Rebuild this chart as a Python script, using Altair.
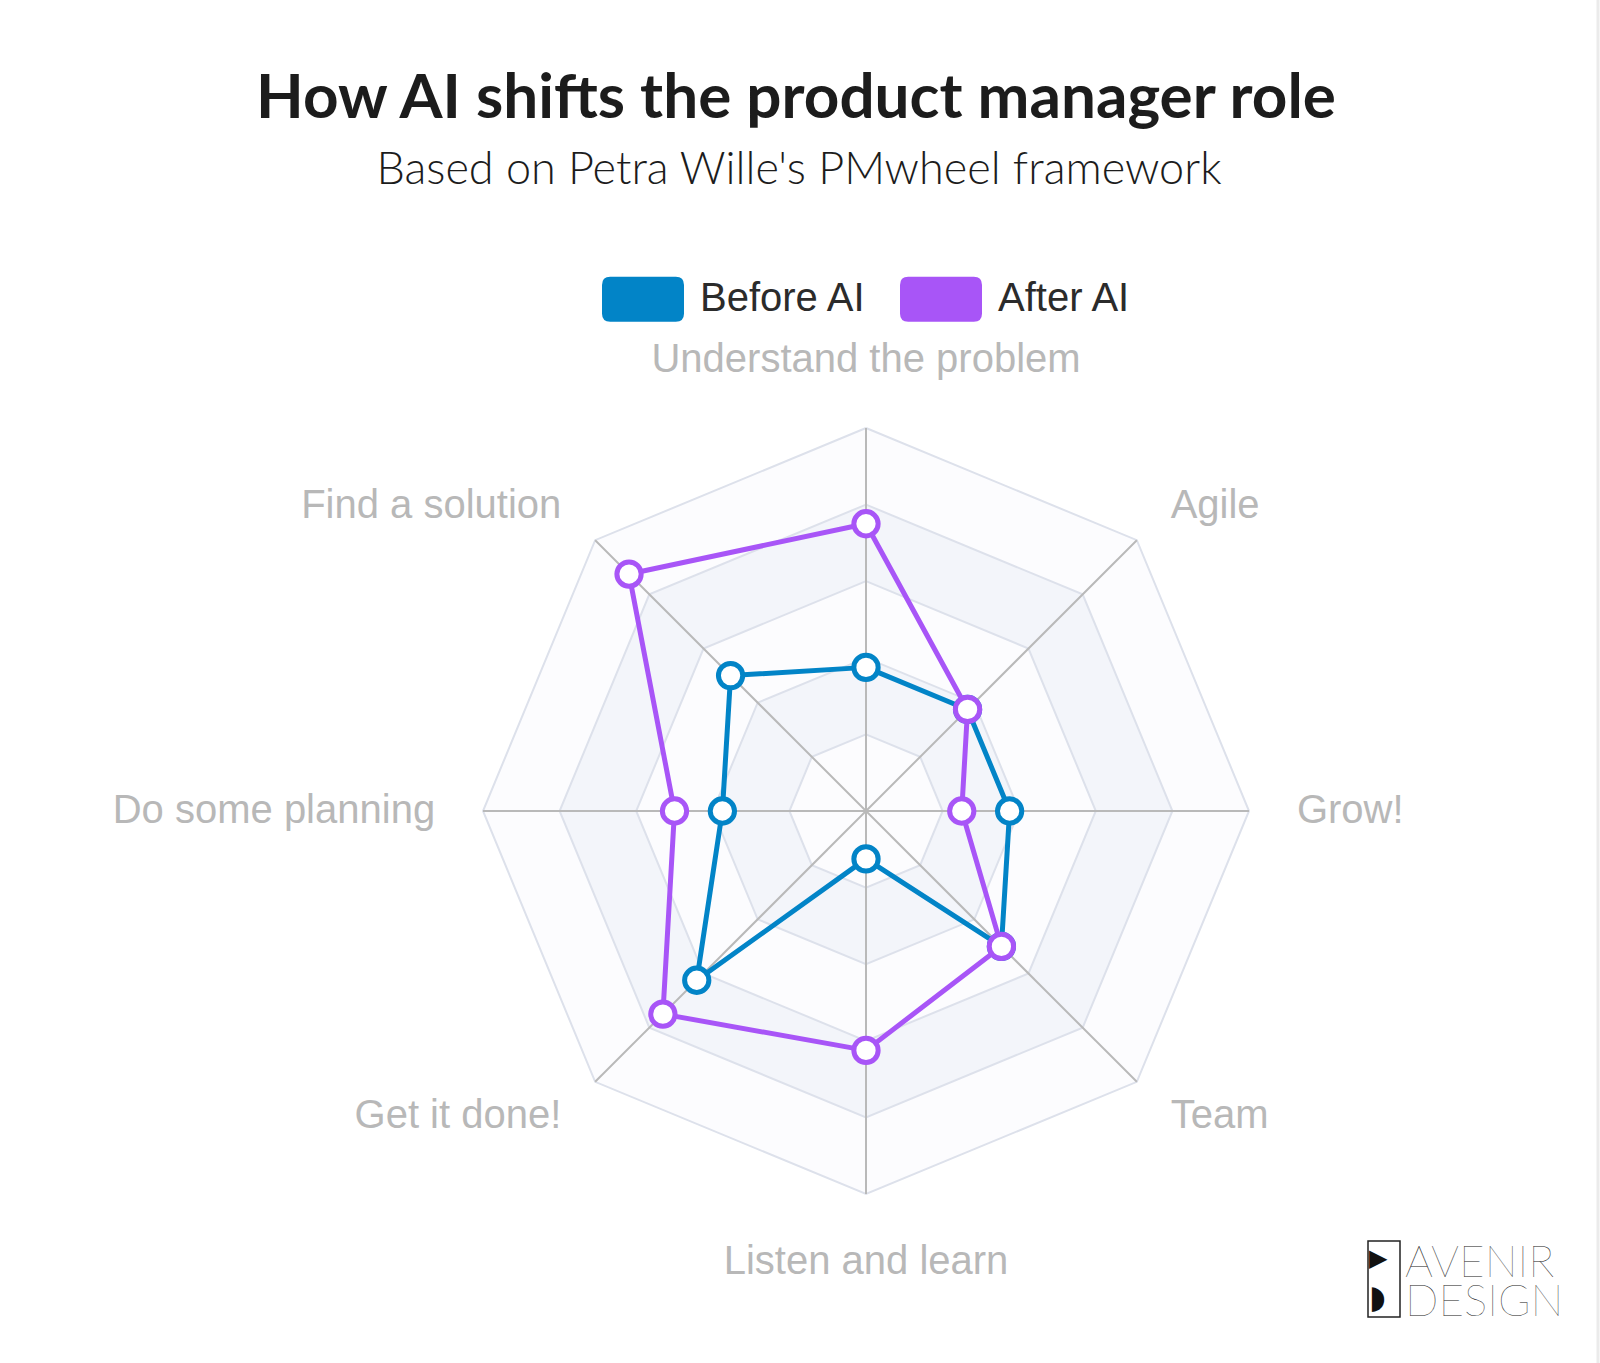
import altair as alt
import pandas as pd

# ---------------- data ----------------
categories = ["Understand the problem", "Agile", "Grow!", "Team",
              "Listen and learn", "Get it done!", "Do some planning", "Find a solution"]
before_ai = [3, 3, 3, 4, 1, 5, 3, 4]
after_ai = [6, 3, 2, 4, 5, 6, 4, 7]
series_names = ["Before AI", "After AI"]
series_colors = ["#0284c7", "#a855f7"]
ring_levels = [1.6, 3.2, 4.8, 6.4, 8.0]
band_fills = ["#fcfcfe", "#f3f5fa", "#fcfcfe", "#f3f5fa", "#fcfcfe"]
label_anchor = ["top", "left", "left", "left", "bottom", "right", "right", "right"]
title_text = "How AI shifts the product manager role"
subtitle_text = "Based on Petra Wille's PMwheel framework"
logo_top = "AVENIR"
logo_bottom = "DESIGN"

# ---------------- geometry ----------------
W, H = 1600, 1363
CX, CY = 866, 811
R_MAX = 8.0
K = 383 / R_MAX          # pixels per value unit
LABEL_R = 9.0
N = len(categories)

xs = alt.Scale(domain=[-CX / K, (W - CX) / K], nice=False, zero=False)
ys = alt.Scale(domain=[-(H - CY) / K, CY / K], nice=False, zero=False)
X = alt.X("x:Q", scale=xs, axis=None)
Y = alt.Y("y:Q", scale=ys, axis=None)
ANG = f"datum.idx * 2 * PI / {N}"

rows = []
for name, vals in zip(series_names, [before_ai, after_ai]):
    for i in range(N + 1):
        rows.append({"series": name, "idx": i, "value": vals[i % N],
                     "category": categories[i % N]})
series_df = pd.DataFrame(rows)

grid_df = pd.DataFrame([{"ring": j, "level": lv, "idx": i}
                        for j, lv in enumerate(ring_levels) for i in range(N + 1)])
spoke_df = pd.DataFrame({"idx": list(range(N)), "r": [R_MAX] * N})
label_df = pd.DataFrame({"category": categories, "idx": list(range(N)),
                         "anchor": label_anchor, "r": [LABEL_R] * N})

color_scale = alt.Scale(domain=series_names, range=series_colors)

layers = []

# legend-carrying layer, drawn first (covered by everything else)
legend_path = ("M -0.8,-0.55 L 0.8,-0.55 Q 1,-0.55 1,-0.35 L 1,0.35 Q 1,0.55 0.8,0.55 "
               "L -0.8,0.55 Q -1,0.55 -1,0.35 L -1,-0.35 Q -1,-0.55 -0.8,-0.55 Z")
layers.append(
    alt.Chart(series_df)
    .transform_filter(f"datum.idx < {N}")
    .transform_calculate(x="0", y="0")
    .mark_square(size=1)
    .encode(x=X, y=Y,
            fill=alt.Fill("series:N", scale=alt.Scale(domain=series_names, range=series_colors),
                          legend=alt.Legend(orient="none", legendX=602, legendY=258,
                                            direction="horizontal", title=None,
                                            symbolType=legend_path, symbolSize=6724,
                                            symbolStrokeWidth=0, symbolOpacity=1,
                                            labelFont="Liberation Sans", labelFontSize=40,
                                            labelColor="#2b2b2b", labelOffset=16,
                                            columnPadding=33, labelLimit=500)))
)

# bands + ring lines (outer first)
for j in reversed(range(len(ring_levels))):
    layers.append(
        alt.Chart(grid_df)
        .transform_filter(f"datum.ring == {j}")
        .transform_calculate(x=f"datum.level * sin({ANG})", y=f"datum.level * cos({ANG})")
        .mark_line(fill=band_fills[j], stroke="#dde1eb", strokeWidth=2)
        .encode(x=X, y=Y, order=alt.Order("idx:Q"))
    )

# spokes
layers.append(
    alt.Chart(spoke_df)
    .transform_calculate(x="0", y="0",
                         x2=f"datum.r * sin({ANG})", y2=f"datum.r * cos({ANG})")
    .mark_rule(color="#b9b9b9", strokeWidth=2)
    .encode(x=X, y=Y, x2="x2:Q", y2="y2:Q")
)

# series lines and points
for name in series_names:
    base = (alt.Chart(series_df)
            .transform_filter(alt.datum.series == name)
            .transform_calculate(x=f"datum.value * sin({ANG})", y=f"datum.value * cos({ANG})"))
    layers.append(
        base.mark_line(strokeWidth=5, strokeJoin="round")
        .encode(x=X, y=Y, order=alt.Order("idx:Q"),
                color=alt.Color("series:N", scale=color_scale, legend=None))
    )
    layers.append(
        base.transform_filter(f"datum.idx < {N}")
        .mark_point(filled=False, fill="white", size=590, strokeWidth=5, opacity=1)
        .encode(x=X, y=Y,
                color=alt.Color("series:N", scale=color_scale, legend=None))
    )

# category labels
label_styles = {
    "top": dict(align="center", baseline="bottom"),
    "bottom": dict(align="center", baseline="top"),
    "left": dict(align="left", baseline="middle"),
    "right": dict(align="right", baseline="middle"),
}
for anchor, style in label_styles.items():
    layers.append(
        alt.Chart(label_df)
        .transform_filter(alt.datum.anchor == anchor)
        .transform_calculate(x=f"datum.r * sin({ANG})", y=f"datum.r * cos({ANG})")
        .mark_text(font="Liberation Sans", fontSize=40, color="#b8b8b8", **style)
        .encode(x=X, y=Y, text="category:N")
    )

# title and subtitle
layers.append(
    alt.Chart(pd.DataFrame({"t": [title_text]}))
    .mark_text(font="Lato", fontWeight="bold", fontSize=62, color="#1c1c1c",
               align="center", baseline="alphabetic")
    .encode(x=alt.value(796), y=alt.value(118), text="t:N")
)
layers.append(
    alt.Chart(pd.DataFrame({"t": [subtitle_text]}))
    .mark_text(font="Lato", fontWeight=300, fontSize=45, color="#1c1c1c",
               align="center", baseline="alphabetic")
    .encode(x=alt.value(799), y=alt.value(184), text="t:N")
)

# logo (approximation)
layers.append(
    alt.Chart(pd.DataFrame({"a": [0]}))
    .mark_rect(fill="white", stroke="#222222", strokeWidth=1.5)
    .encode(x=alt.value(1368), x2=alt.value(1400), y=alt.value(1241), y2=alt.value(1317))
)
layers.append(
    alt.Chart(pd.DataFrame({"t": ["\u25B6"]}))
    .mark_text(font="DejaVu Sans", fontSize=24, color="#111111", align="left", baseline="middle")
    .encode(x=alt.value(1369), y=alt.value(1259), text="t:N")
)
layers.append(
    alt.Chart(pd.DataFrame({"t": ["\u25D7"]}))
    .mark_text(font="DejaVu Sans", fontSize=32, color="#111111", align="left", baseline="middle")
    .encode(x=alt.value(1369), y=alt.value(1298), text="t:N")
)
layers.append(
    alt.Chart(pd.DataFrame({"t": [logo_top]}))
    .mark_text(font="Lato", fontWeight=100, fontSize=44, color="#222222",
               align="left", baseline="alphabetic")
    .encode(x=alt.value(1405), y=alt.value(1277), text="t:N")
)
layers.append(
    alt.Chart(pd.DataFrame({"t": [logo_bottom]}))
    .mark_text(font="Lato", fontWeight=100, fontSize=44, color="#222222",
               align="left", baseline="alphabetic")
    .encode(x=alt.value(1405), y=alt.value(1316), text="t:N")
)

# right border line
layers.append(
    alt.Chart(pd.DataFrame({"a": [0]}))
    .mark_rule(color="#ebebeb", strokeWidth=3)
    .encode(x=alt.value(1598), y=alt.value(0), y2=alt.value(H))
)

chart = (
    alt.layer(*layers)
    .properties(width=W, height=H, padding=0,
                autosize=alt.AutoSizeParams(type="none"), background="white")
    .configure_view(stroke=None)
)

chart.save("out.html", embed_options={"renderer": "svg", "actions": False})
